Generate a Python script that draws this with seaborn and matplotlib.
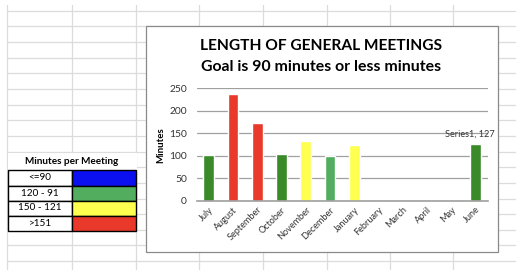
import matplotlib
matplotlib.use("Agg")
import matplotlib.pyplot as plt
from matplotlib.patches import Rectangle
from matplotlib.lines import Line2D
import seaborn as sns
import pandas as pd
import numpy as np

# ---- data ----
months = ["July", "August", "September", "October", "November", "December",
          "January", "February", "March", "April", "May", "June"]
minutes = [102, 237, 172, 105, 133, 100, 124, np.nan, np.nan, np.nan, np.nan, 127]
bar_colors = ["#3a8a2a", "#e8392a", "#e8392a", "#3a8a2a", "#ffff50", "#52ad5e",
              "#ffff50", "#3a8a2a", "#3a8a2a", "#3a8a2a", "#3a8a2a", "#3a8a2a"]
yticks = [0, 50, 100, 150, 200, 250]
title_lines = ["LENGTH OF GENERAL MEETINGS", "Goal is 90 minutes or less minutes"]
ylabel = "Minutes"
label_text = "Series1, 127"

legend_title = "Minutes per Meeting"
legend_labels = ["<=90", "120 - 91", "150 - 121", ">151"]
legend_colors = ["#0a10f0", "#52ad5e", "#ffff50", "#e8392a"]

sns.set_theme(style="white")
plt.rcParams["font.family"] = ["Lato", "DejaVu Sans"]

W, H = 516, 270
fig = plt.figure(figsize=(W / 100, H / 100), dpi=100)
fig.patch.set_facecolor("white")

def fx(x):
    return x / W

def fy(y):
    return 1 - y / H

# spreadsheet grid background
grid_c = "#dcdcdc"
for x in [7.3, 71.7, 135.7, 199, 263, 327, 390, 453]:
    fig.add_artist(Line2D([fx(x), fx(x)], [fy(5), fy(H)], color=grid_c, lw=0.9, zorder=0))
for k in range(17):
    y = 10.7 + 15.65 * k
    fig.add_artist(Line2D([fx(7.3), 1], [fy(y), fy(y)], color=grid_c, lw=0.9, zorder=0))

# legend table
fig.add_artist(Rectangle((fx(7.5), fy(169.5)), fx(129), (169.5 - 153) / H,
                         facecolor="white", edgecolor="none", zorder=1))
fig.text(fx(72), fy(162), legend_title, ha="center", va="center", fontsize=7.2,
         fontweight="bold", color="black", zorder=3)
row_edges = [170, 185.5, 200.5, 215.5, 230.5]
for i, (lab, col) in enumerate(zip(legend_labels, legend_colors)):
    y0, y1 = row_edges[i], row_edges[i + 1]
    fig.add_artist(Rectangle((fx(8.3), fy(y1)), fx(71.7 - 8.3), (y1 - y0) / H,
                             facecolor="white", edgecolor="black", lw=1.0, zorder=2))
    fig.add_artist(Rectangle((fx(71.7), fy(y1)), fx(136.2 - 71.7), (y1 - y0) / H,
                             facecolor=col, edgecolor="black", lw=1.0, zorder=2))
    fig.text(fx(40), fy((y0 + y1) / 2), lab, ha="center", va="center", fontsize=7.2,
             color="black", zorder=3)

# chart box
fig.add_artist(Rectangle((fx(147), fy(253)), fx(498 - 146), (253 - 26) / H,
                         facecolor="#c8c8c8", edgecolor="none", zorder=1))
fig.add_artist(Rectangle((fx(145.7), fy(252)), fx(498 - 145.7), (252 - 26) / H,
                         facecolor="white", edgecolor="#8a8a8a", lw=0.9, zorder=1))

fig.text(fx(321), fy(45.5), title_lines[0], ha="center", va="center", fontsize=11.2,
         fontweight="bold", color="black")
fig.text(fx(321), fy(67), title_lines[1], ha="center", va="center", fontsize=11.4,
         fontweight="bold", color="black")

ax = fig.add_axes([fx(196.7), fy(201), fx(487.5 - 196.7), (201 - 88.3) / H])
ax.set_facecolor("none")
ax.set_zorder(2)

df = pd.DataFrame({"month": months, "minutes": minutes})
sns.barplot(data=df, x="month", y="minutes", hue="month", order=months,
            hue_order=months, palette=dict(zip(months, bar_colors)),
            width=0.44, legend=False, ax=ax, saturation=1)

ax.set_ylim(0, 250)
ax.set_xlim(-0.5, len(months) - 0.5)
ax.set_yticks(yticks)
ax.set_yticklabels([str(t) for t in yticks], fontsize=7.4, color="#333333")
ax.yaxis.grid(True, color="#a0a0a0", lw=0.9)
ax.set_axisbelow(True)
for s in ["left", "right", "top"]:
    ax.spines[s].set_visible(False)
ax.spines["bottom"].set_color("#a0a0a0")
ax.spines["bottom"].set_linewidth(1.2)
ax.tick_params(axis="y", length=0, pad=7)
ax.tick_params(axis="x", length=0, pad=3)
ax.set_xticks(range(len(months)))
ax.set_xticklabels(months, rotation=45, ha="right", rotation_mode="anchor",
                   fontsize=6.6, color="#333333")
ax.set_xlabel("")
ax.set_ylabel(ylabel, fontsize=7, fontweight="bold", color="black", labelpad=3)

june = months.index("June")
ax.annotate(label_text, (june, minutes[june]), xytext=(-4, 4), textcoords="offset points",
            ha="center", va="bottom", fontsize=6.6, color="#333333")

fig.savefig("out.png", dpi=100)
